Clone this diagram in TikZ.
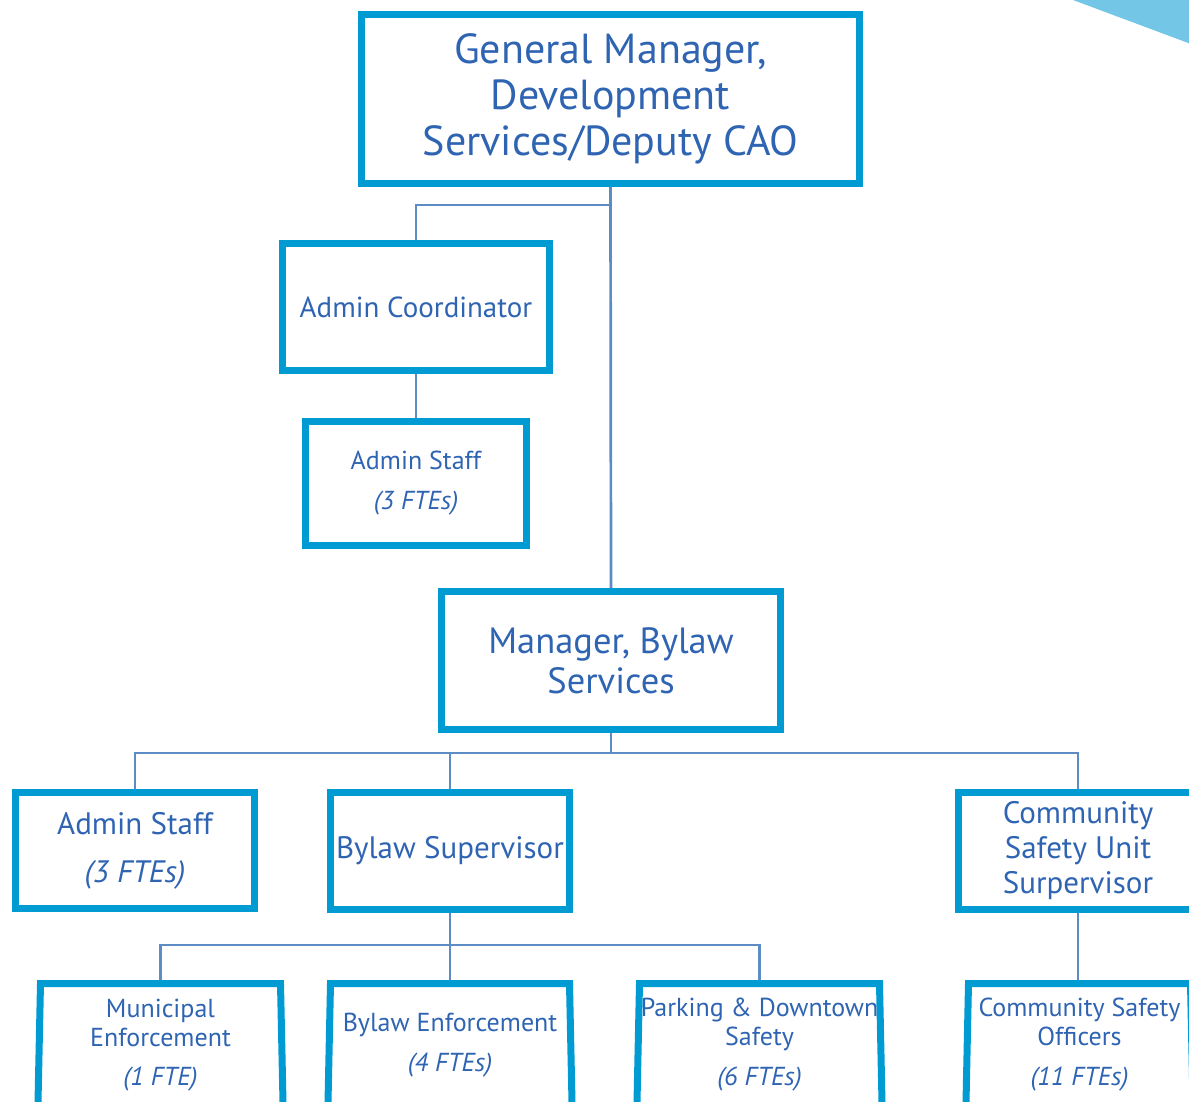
\documentclass[tikz,border=0pt]{standalone}
\usepackage{fontspec}
\setmainfont{PT Sans}
\usetikzlibrary{positioning}
\definecolor{boxblue}{HTML}{009BD3}
\definecolor{textblue}{HTML}{2F64B2}
\definecolor{linkblue}{HTML}{5B8CC4}
\definecolor{cornerblue}{HTML}{73C6E6}
\begin{document}
\begin{tikzpicture}[x=1pt,y=-1pt,
    box/.style={draw=boxblue, line width=7pt, text=textblue, align=center, inner sep=0pt},
    openbox/.style={box, draw=none},
    link/.style={draw=linkblue, line width=2.7pt},
    big/.style={font=\fontsize{42}{46}\selectfont},
    mid/.style={font=\fontsize{36.5}{40}\selectfont},
    norm/.style={font=\fontsize{31}{35}\selectfont},
    small/.style={font=\fontsize{26}{29}\selectfont}]
    \useasboundingbox (0,0) rectangle (1189,1101);
    \fill[cornerblue] (1073,0) -- (1195,0) -- (1195,45.5) -- cycle;

    % top of the chart
    \node[box, big, minimum width=498pt, minimum height=169pt] (gm) at (610.5,99)
        {General Manager,\\Development\\Services/Deputy CAO};
    \node[box, font=\fontsize{29}{33}\selectfont, minimum width=267pt, minimum height=127pt] (coord) at (416,307)
        {Admin Coordinator};
    \node[box, font=\fontsize{26}{30}\selectfont, minimum width=221pt, minimum height=124pt] (staffa) at (416,483.5)
        {Admin Staff\\[10pt]\itshape (3 FTEs)};
    \node[box, mid, minimum width=339pt, minimum height=138pt] (mgr) at (611,660.5)
        {Manager, Bylaw\\Services};

    % second level
    \node[box, font=\fontsize{31}{36}\selectfont, minimum width=239pt, minimum height=116pt] (staffb) at (135,850.5)
        {Admin Staff\\[12pt]\itshape (3 FTEs)};
    \node[box, norm, minimum width=239pt, minimum height=117pt] (sup) at (450,851)
        {Bylaw Supervisor};
    \node[box, norm, minimum width=239pt, minimum height=117pt] (csu) at (1078,851)
        {Community\\Safety Unit\\Surpervisor};

    % bottom row, cut off by the page
    \node[openbox, small, minimum width=240pt, minimum height=123pt] (muni) at (160.5,1045)
        {Municipal\\Enforcement\\[10pt]\itshape (1 FTE)};
    \node[openbox, small, minimum width=239pt, minimum height=123pt] (enf) at (450,1045)
        {Bylaw Enforcement\\[11pt]\itshape (4 FTEs)};
    \node[openbox, small, minimum width=240pt, minimum height=123pt] (park) at (759.5,1045)
        {Parking \& Downtown\\Safety\\[11pt]\itshape (6 FTEs)};
    \node[openbox, small, minimum width=222pt, minimum height=123pt] (cso) at (1079.5,1045)
        {Community Safety\\Officers\\[11pt]\itshape (11 FTEs)};
    \foreach \n in {muni,enf,park,cso}
        \draw[boxblue, line width=7pt] ([yshift=-40pt]\n.south west) -- ([shift={(3.5pt,-3.5pt)}]\n.north west)
            -- ([shift={(-3.5pt,-3.5pt)}]\n.north east) -- ([yshift=-40pt]\n.south east);

    % connectors
    \coordinate (tap) at (610,205);
    \coordinate (busa) at (611,753);
    \coordinate (busb) at (450,945);
    \draw[link] (gm.south) -- (mgr.north);
    \draw[link] (tap) -| (coord.north);
    \draw[link] (coord.south) -- (staffa.north);
    \draw[link] (mgr.south) -- (busa);
    \draw[link] (staffb.north) |- (busa) -| (csu.north);
    \draw[link] (sup.north) -- (sup.north |- busa);
    \draw[link] (sup.south) -- (busb);
    \draw[link] (muni.north) |- (busb) -| (park.north);
    \draw[link] (enf.north) -- (enf.north |- busb);
    \draw[link] (csu.south) -- (csu.south |- cso.north);
\end{tikzpicture}
\end{document}
